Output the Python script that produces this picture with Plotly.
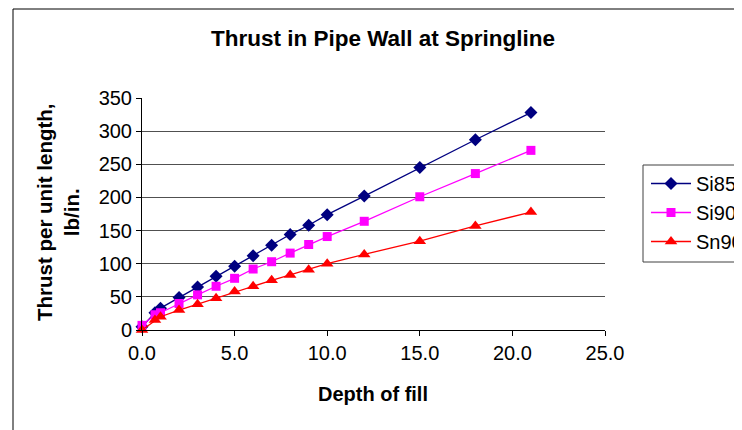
import plotly.graph_objects as go

depth = [0, 0.7, 1, 2, 3, 4, 5, 6, 7, 8, 9, 10, 12, 15, 18, 21]
si85 = [5, 26, 33, 49, 65, 81, 96, 112, 128, 144, 158, 174, 202, 245, 287, 328]
si90 = [7, 23, 26, 40, 53, 66, 78, 92, 103, 116, 129, 141, 164, 201, 236, 271]
sn90 = [0, 15, 20, 30, 39, 48, 58, 66, 75, 83, 91, 100, 114, 134, 157, 178]

series = [
    ("Si85", si85, "#000080", "diamond", 10),
    ("Si90", si90, "#FF00FF", "square", 9),
    ("Sn90", sn90, "#FF0000", "triangle-up", 11),
]

# page body has an 8px margin; figure is drawn from screen (8,8)
OFF = 8
W, H = 770, 430
L, R, T, B = 142 - OFF, 605 - OFF, 98 - OFF, 330 - OFF

fig = go.Figure()
for name, vals, col, sym, sz in series:
    fig.add_trace(go.Scatter(
        x=depth, y=vals, name=name, mode="lines+markers",
        line=dict(color=col, width=1.3),
        marker=dict(symbol=sym, size=sz, color=col),
        cliponaxis=False, legendgroup=name,
    ))

font = "Liberation Sans, Arial, sans-serif"

# helpers take reference-screen pixel coordinates
def px(xs):
    return (xs - OFF - L) / (R - L)

def py(ys):
    return (B - (ys - OFF)) / (B - T)

fig.update_layout(
    width=W, height=H,
    margin=dict(l=L, r=W - R, t=T, b=H - B, pad=0),
    paper_bgcolor="white", plot_bgcolor="white",
    font=dict(family=font, color="black", size=20),
    title=dict(text="<b>Thrust in Pipe Wall at Springline</b>",
               x=(383 - OFF) / W, xanchor="center", y=1 - (38 - OFF) / H, yanchor="middle",
               font=dict(size=22.5, family=font)),
    showlegend=True,
    legend=dict(x=px(646), y=py(164), xanchor="left", yanchor="top",
                bgcolor="rgba(0,0,0,0)", borderwidth=0,
                font=dict(size=20, family=font),
                itemwidth=40, tracegroupgap=0),
    xaxis=dict(range=[0, 25], dtick=5, tickformat=".1f",
               showgrid=False, zeroline=False,
               showline=True, linecolor="black", linewidth=1,
               ticks="outside", ticklen=5, tickcolor="black",
               tickfont=dict(size=20)),
    yaxis=dict(range=[0, 350], dtick=50,
               showgrid=True, gridcolor="#505050", gridwidth=1,
               zeroline=False,
               showline=True, linecolor="black", linewidth=1,
               ticks="outside", ticklen=5, tickcolor="black",
               tickfont=dict(size=20)),
    shapes=[
        dict(type="rect", xref="paper", yref="paper",
             x0=px(13), x1=px(800), y0=py(470), y1=py(9),
             line=dict(color="black", width=1), fillcolor="rgba(0,0,0,0)",
             layer="below"),
        dict(type="rect", xref="paper", yref="paper",
             x0=px(643), x1=px(800), y0=py(262), y1=py(165),
             line=dict(color="#404040", width=1), fillcolor="white",
             layer="below"),
    ],
    annotations=[
        dict(text="<b>Depth of fill</b>", xref="paper", yref="paper",
             x=px(373), y=py(394), xanchor="center", yanchor="middle",
             showarrow=False, font=dict(size=20, family=font)),
        dict(text="<b>Thrust per unit length,<br>lb/in.</b>", xref="paper", yref="paper",
             x=px(58), y=py(212), xanchor="center", yanchor="middle",
             showarrow=False, textangle=-90, font=dict(size=20.5, family=font)),
    ],
)

fig.write_html("out.html")
